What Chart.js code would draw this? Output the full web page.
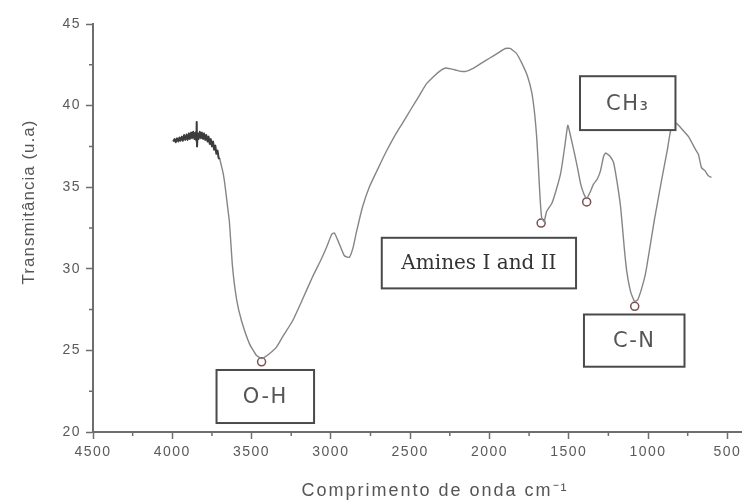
<!DOCTYPE html>
<html>
<head>
<meta charset="utf-8">
<script src="https://cdn.jsdelivr.net/npm/chart.js@4.4.1/dist/chart.umd.min.js"></script>
<style>
  body { margin: 0; background: #fff; }
  #wrap { width: 744px; height: 504px; }
</style>
</head>
<body>
<div id="wrap"><canvas id="ftir" width="744" height="504"></canvas></div>
<script>
// espectro FTIR
const wavenumber = [
  3995, 3985, 3978, 3970, 3962, 3955, 3948, 3940, 3933, 3926, 3918, 3910,
  3903, 3896, 3889, 3882, 3875, 3868, 3861, 3854, 3848, 3846, 3844, 3840,
  3834, 3827, 3820, 3813, 3806, 3799, 3792, 3785, 3778, 3771, 3764, 3757,
  3750, 3743, 3736, 3729, 3722, 3715, 3708, 3700, 3690, 3680, 3670, 3660,
  3650, 3640, 3620, 3594, 3563, 3513, 3470, 3437, 3400, 3343, 3300, 3242,
  3180, 3116, 3060, 3028, 2995, 2978, 2950, 2915, 2884, 2860, 2840, 2800,
  2758, 2700, 2650, 2600, 2550, 2500, 2443, 2400, 2350, 2300, 2274, 2220,
  2180, 2148, 2100, 2050, 2000, 1950, 1900, 1870, 1830, 1796, 1760, 1733,
  1715, 1701, 1690, 1680, 1670, 1655, 1640, 1607, 1580, 1550, 1525, 1506,
  1490, 1469, 1445, 1425, 1405, 1387, 1365, 1343, 1320, 1300, 1280, 1267,
  1240, 1217, 1195, 1173, 1150, 1135, 1110, 1085, 1065, 1040, 1016, 990,
  960, 915, 880, 852, 821, 790, 745, 700, 682, 663, 640, 620, 600
];
const transmittance = [
  37.8, 37.95, 37.75, 38.0, 37.8, 38.05, 37.85, 38.1, 37.85, 38.2, 37.9, 38.25,
  37.9, 38.3, 37.95, 38.35, 38.0, 38.4, 37.95, 38.35, 37.85, 39.0, 37.5, 38.3,
  37.95, 38.4, 38.0, 38.35, 37.95, 38.3, 37.9, 38.2, 37.8, 38.1, 37.65, 37.95,
  37.5, 37.8, 37.3, 37.55, 37.05, 37.25, 36.8, 36.7, 36.3, 35.9, 35.3, 34.5,
  33.7, 32.9, 30.1, 28.1, 26.8, 25.4, 24.7, 24.5, 24.7, 25.2, 25.9, 26.8,
  28.1, 29.5, 30.6, 31.3, 32.1, 32.2, 31.6, 30.8, 30.7, 31.3, 32.2, 33.8,
  35.0, 36.2, 37.2, 38.1, 38.9, 39.7, 40.6, 41.3, 41.8, 42.2, 42.3, 42.2,
  42.1, 42.1, 42.3, 42.6, 42.9, 43.2, 43.5, 43.5, 43.2, 42.6, 41.8, 40.8,
  39.5, 37.9, 36.0, 34.2, 33.1, 32.9, 33.5, 34.0, 34.8, 35.9, 37.5, 38.8,
  38.2, 37.3, 36.2, 35.2, 34.6, 34.3, 34.7, 35.2, 35.5, 36.0, 36.9, 37.1,
  36.9, 36.5, 35.3, 33.8, 31.3, 29.9, 28.6, 28.0, 28.1, 28.8, 29.7, 31.2,
  33.0, 35.4, 37.2, 38.7, 38.9, 38.6, 38.1, 37.3, 37.0, 36.2, 36.0, 35.7, 35.6
];

// marcadores das bandas
const bandX = [3437, 1674, 1387, 1084];
const bandY = [24.3, 32.8, 34.1, 27.7];

// caixas de texto (unidades dos eixos)
const bandLabels = ["O-H", "Amines I and II", "CH₃", "C-N"];
const boxX1 = [3721, 2679, 1429, 1404];
const boxX2 = [3106, 1454, 827, 770];
const boxY1 = [23.8, 31.9, 41.8, 27.2];
const boxY2 = [20.55, 28.8, 38.5, 24.0];

const xTicks = [4500, 4000, 3500, 3000, 2500, 2000, 1500, 1000, 500];
const xMinor = [4250, 3750, 3250, 2750, 2250, 1750, 1250, 750];
const yTicks = [20, 25, 30, 35, 40, 45];
const yMinor = [22.5, 27.5, 32.5, 37.5, 42.5];

const axisColor = "#6e6e6e";

const spectrum = wavenumber.map((v, i) => ({ x: v, y: transmittance[i] }));
const bands = bandX.map((v, i) => ({ x: v, y: bandY[i] }));

const extras = {
  id: "extras",
  beforeDraw(chart) {
    chart.ctx.letterSpacing = "1.5px";
  },
  afterDraw(chart) {
    const ctx = chart.ctx;
    const xs = chart.scales.x;
    const ys = chart.scales.y;
    const area = chart.chartArea;
    ctx.save();
    // minor ticks
    ctx.strokeStyle = axisColor;
    ctx.lineWidth = 1.5;
    ctx.beginPath();
    xMinor.forEach((v) => {
      const px = xs.getPixelForValue(v);
      ctx.moveTo(px, area.bottom);
      ctx.lineTo(px, area.bottom + 4);
    });
    yMinor.forEach((v) => {
      const py = ys.getPixelForValue(v);
      ctx.moveTo(area.left, py);
      ctx.lineTo(area.left - 4, py);
    });
    ctx.stroke();

    // caixas
    bandLabels.forEach((txt, i) => {
      const l = xs.getPixelForValue(boxX1[i]);
      const r = xs.getPixelForValue(boxX2[i]);
      const t = ys.getPixelForValue(boxY1[i]);
      const b = ys.getPixelForValue(boxY2[i]);
      ctx.fillStyle = "#fff";
      ctx.fillRect(l, t, r - l, b - t);
      ctx.strokeStyle = "#4a4a4a";
      ctx.lineWidth = 2;
      ctx.strokeRect(l, t, r - l, b - t);
      ctx.textAlign = "center";
      ctx.textBaseline = "middle";
      if (i === 1) {
        ctx.letterSpacing = "0px";
        ctx.font = "20px 'DejaVu Serif'";
        ctx.fillStyle = "#333";
      } else {
        ctx.letterSpacing = "1.5px";
        ctx.font = "21px 'DejaVu Sans'";
        ctx.fillStyle = "#555";
      }
      ctx.fillText(txt, (l + r) / 2, (t + b) / 2 + 1);
    });

    // titulos dos eixos
    ctx.fillStyle = "#555";
    ctx.letterSpacing = "1px";
    ctx.font = "17px 'Liberation Sans'";
    ctx.textAlign = "center";
    ctx.textBaseline = "middle";
    ctx.save();
    ctx.translate(29, 202);
    ctx.rotate(-Math.PI / 2);
    ctx.fillText("Transmitância (u.a)", 0, 0);
    ctx.restore();
    ctx.letterSpacing = "2px";
    ctx.font = "18px 'Liberation Sans'";
    ctx.fillText("Comprimento de onda cm⁻¹", 435, 491);
    ctx.restore();
  },
};

new Chart(document.getElementById("ftir"), {
  type: "line",
  data: {
    datasets: [
      {
        data: spectrum,
        borderColor: "#858585",
        borderWidth: 1.4,
        pointRadius: 0,
        tension: 0.15,
        fill: false,
        segment: {
          borderColor: (c) => (c.p0.parsed.x > 3705 ? "#3c3c3c" : undefined),
          borderWidth: (c) => (c.p0.parsed.x > 3705 ? 2 : undefined),
        },
      },
      {
        data: bands,
        showLine: false,
        pointRadius: 4,
        pointBorderWidth: 1.5,
        pointBorderColor: "#7a4f4f",
        pointBackgroundColor: "rgba(255,255,255,0.6)",
      },
    ],
  },
  options: {
    responsive: false,
    animation: false,
    events: [],
    layout: { autoPadding: false, padding: { top: 24, right: 0, left: 0, bottom: 0 } },
    plugins: { legend: { display: false }, tooltip: { enabled: false } },
    scales: {
      x: {
        type: "linear",
        reverse: true,
        min: 412,
        max: 4500,
        afterBuildTicks: (s) => { s.ticks = xTicks.map((v) => ({ value: v })); },
        afterFit: (s) => { s.height = 72; },
        grid: { drawOnChartArea: false, tickLength: 7, tickWidth: 1.5, tickColor: axisColor },
        border: { color: axisColor, width: 2 },
        ticks: {
          padding: 5,
          color: "#5a5a5a",
          font: { family: "'Liberation Sans'", size: 14 },
          maxRotation: 0,
          callback: (v) => String(v),
        },
      },
      y: {
        min: 20,
        max: 45,
        afterBuildTicks: (s) => { s.ticks = yTicks.map((v) => ({ value: v })); },
        afterFit: (s) => { s.width = 93; },
        grid: { drawOnChartArea: false, tickLength: 7, tickWidth: 1.5, tickColor: axisColor },
        border: { color: axisColor, width: 2 },
        ticks: {
          padding: 5,
          color: "#5a5a5a",
          font: { family: "'Liberation Sans'", size: 14 },
          callback: (v) => String(v),
        },
      },
    },
  },
  plugins: [extras],
});
</script>
</body>
</html>
